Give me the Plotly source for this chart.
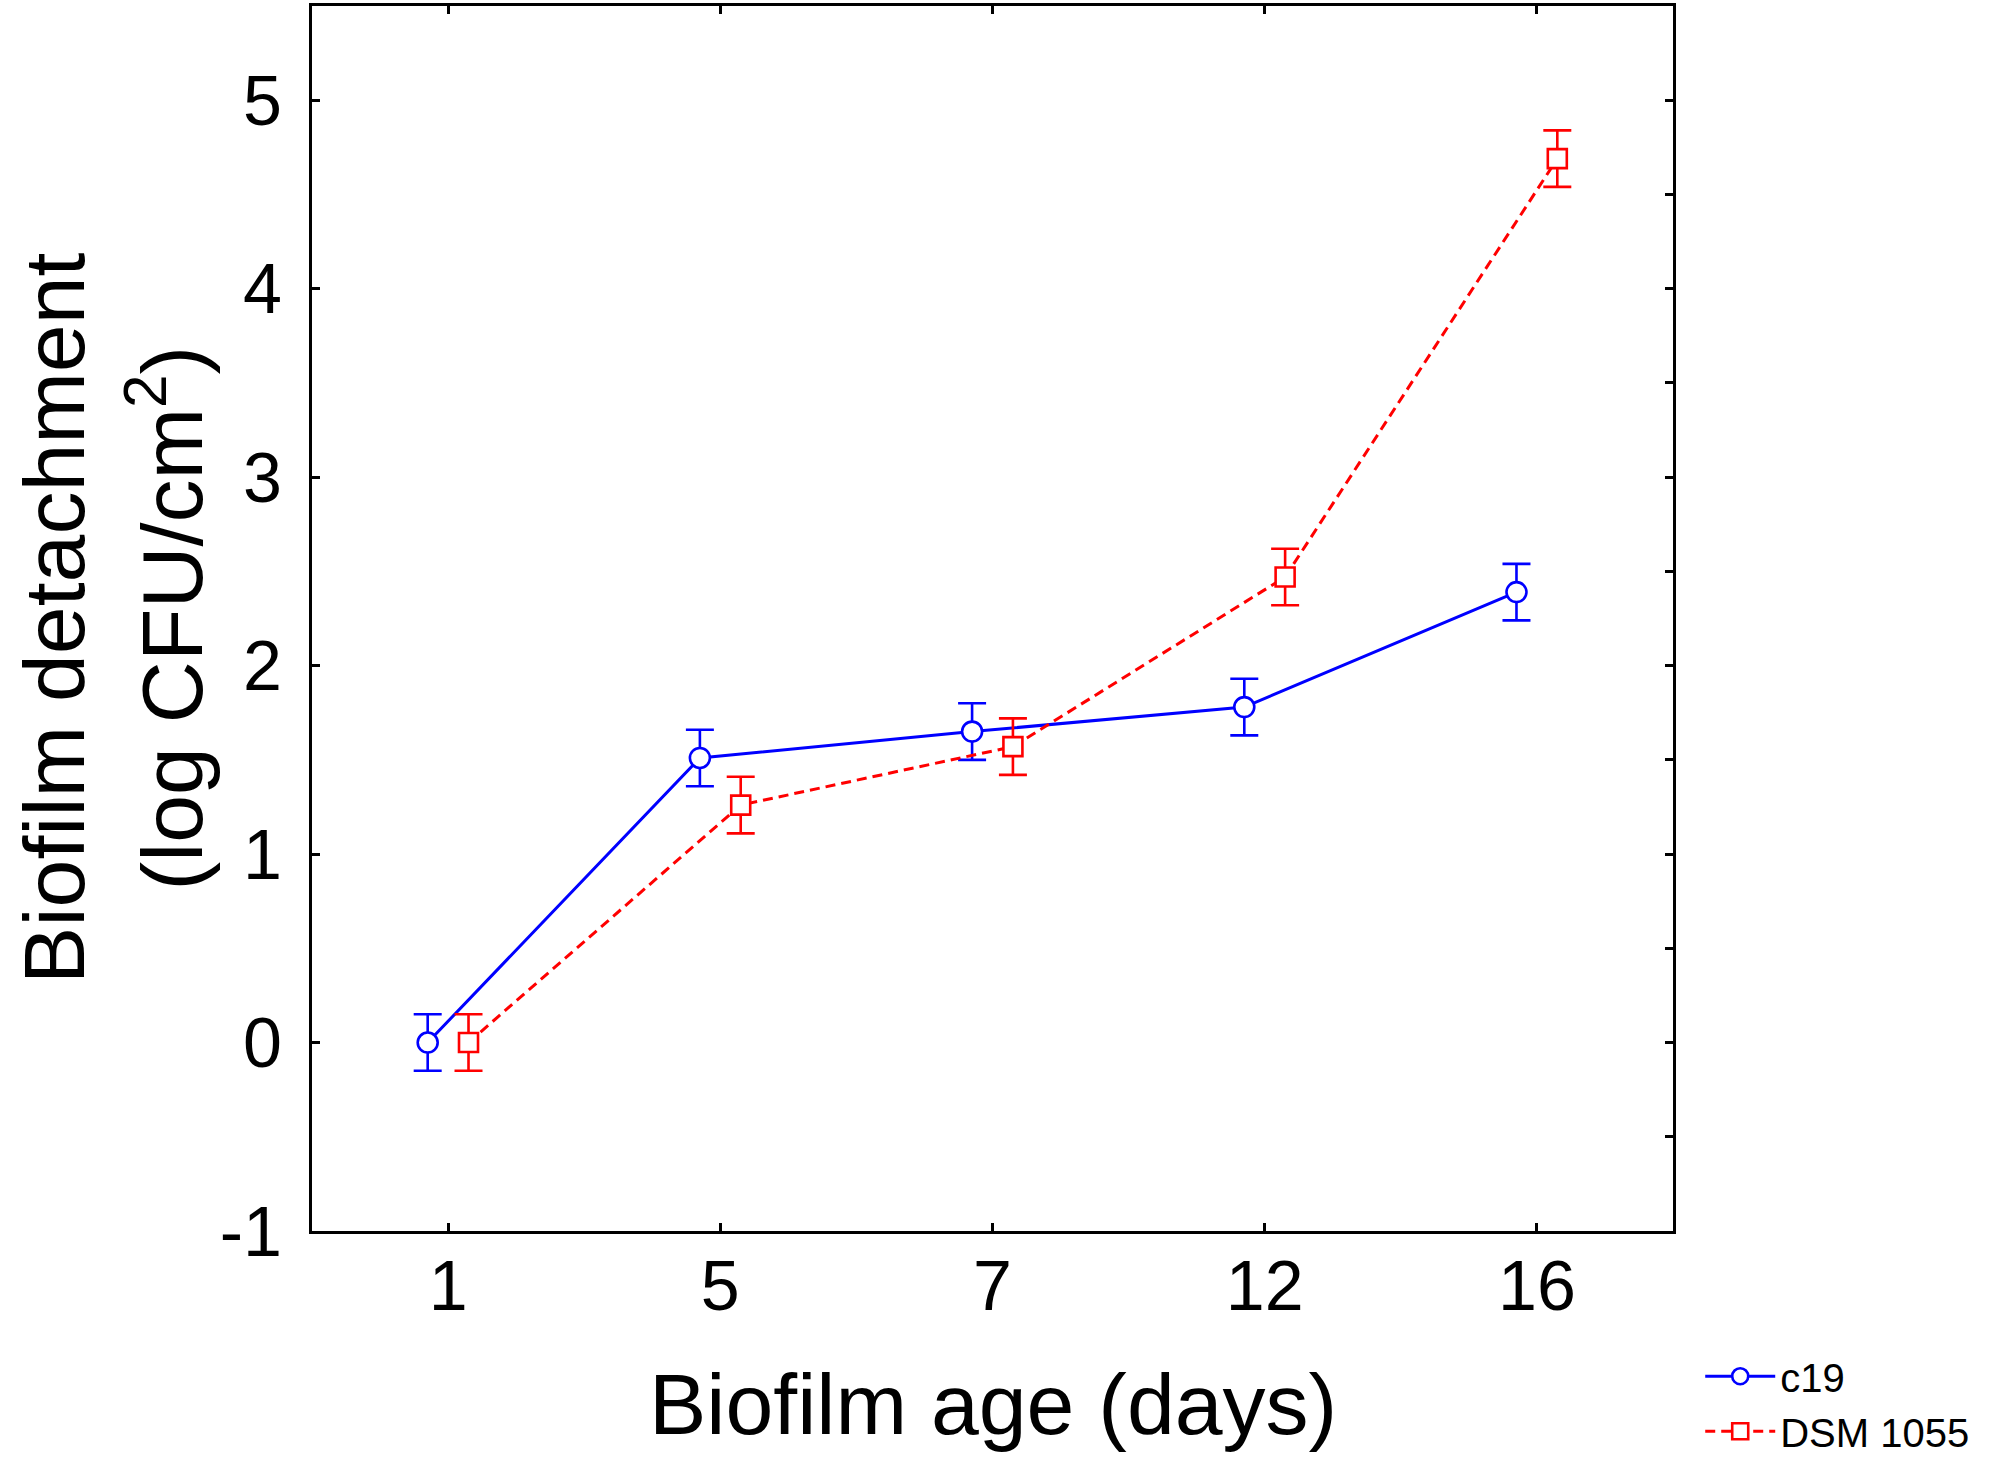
import plotly.graph_objects as go

# data
days = ["1", "5", "7", "12", "16"]
c19_mean = [0.0, 1.51, 1.65, 1.78, 2.39]
c19_err = [0.15, 0.15, 0.15, 0.15, 0.15]
dsm_mean = [0.0, 1.26, 1.57, 2.47, 4.69]
dsm_err = [0.15, 0.15, 0.15, 0.15, 0.15]
y_ticks = [-1, 0, 1, 2, 3, 4, 5]
y_ticktext = ["-1", "0", "1", "2", "3", "4", "5"]

SHIFT = 0.075
FONT = "Liberation Sans, Arial, sans-serif"
BLUE = "rgb(0,0,255)"
RED = "rgb(255,0,0)"

pos = list(range(len(days)))

fig = go.Figure()

fig.add_trace(go.Scatter(
    x=[p - SHIFT for p in pos],
    y=c19_mean,
    name="c19",
    mode="lines+markers",
    line=dict(color=BLUE, width=3),
    marker=dict(symbol="circle", size=20, color="white",
                line=dict(color=BLUE, width=2.6)),
    error_y=dict(type="data", array=c19_err, visible=True,
                 color=BLUE, thickness=2.6, width=14),
))

fig.add_trace(go.Scatter(
    x=[p + SHIFT for p in pos],
    y=dsm_mean,
    name="DSM 1055",
    mode="lines+markers",
    line=dict(color=RED, width=3, dash="10px,6px"),
    marker=dict(symbol="square", size=19, color="white",
                line=dict(color=RED, width=2.6)),
    error_y=dict(type="data", array=dsm_err, visible=True,
                 color=RED, thickness=2.6, width=14),
))

# dummy trace so the right-hand tick axis gets drawn
fig.add_trace(go.Scatter(x=[pos[0]], y=[0], yaxis="y2", mode="markers",
                         marker=dict(opacity=0), showlegend=False,
                         hoverinfo="skip"))

fig.update_layout(
    width=1995,
    height=1461,
    margin=dict(l=312, r=322, t=6, b=230, autoexpand=False),
    paper_bgcolor="white",
    plot_bgcolor="white",
    font=dict(family=FONT, color="black"),
    showlegend=True,
    legend=dict(
        x=1.02, y=-0.092, xanchor="left", yanchor="top",
        font=dict(size=40, family=FONT),
        bgcolor="rgba(0,0,0,0)",
        tracegroupgap=0,
        itemwidth=70,
    ),
    xaxis=dict(
        range=[-0.5, 4.5],
        tickvals=pos,
        ticktext=days,
        ticks="inside",
        ticklen=8,
        tickwidth=2.5,
        tickcolor="black",
        showline=True,
        linecolor="black",
        linewidth=3,
        mirror="ticks",
        showgrid=False,
        zeroline=False,
        tickfont=dict(size=70, family=FONT),
        ticklabelstandoff=-8,
    ),
    yaxis=dict(
        range=[-1, 5.5],
        tickvals=y_ticks,
        ticktext=y_ticktext,
        ticks="inside",
        ticklen=8,
        tickwidth=2.5,
        tickcolor="black",
        showline=True,
        linecolor="black",
        linewidth=3,
        mirror=True,
        showgrid=False,
        zeroline=False,
        tickfont=dict(size=70, family=FONT),
        ticklabelstandoff=13,
    ),
    yaxis2=dict(
        overlaying="y",
        side="right",
        range=[-1, 5.5],
        tick0=-1,
        dtick=0.5,
        ticks="inside",
        ticklen=8,
        tickwidth=2.5,
        tickcolor="black",
        showticklabels=False,
        showline=False,
        showgrid=False,
        zeroline=False,
    ),
)

title_font = dict(size=86, family=FONT, color="black")
fig.add_annotation(text="Biofilm detachment", xref="paper", yref="paper",
                   x=-0.19, y=0.5, textangle=-90, showarrow=False,
                   xanchor="center", yanchor="middle", font=title_font)
fig.add_annotation(text="(log CFU/cm<sup>2</sup>)", xref="paper", yref="paper",
                   x=-0.108, y=0.5, textangle=-90, showarrow=False,
                   xanchor="center", yanchor="middle", font=title_font)
fig.add_annotation(text="Biofilm age (days)", xref="paper", yref="paper",
                   x=0.5, y=-0.141, showarrow=False,
                   xanchor="center", yanchor="middle", font=title_font)

fig.write_html("out.html", config={"displayModeBar": False},
               post_script="document.body.style.margin='0';")
